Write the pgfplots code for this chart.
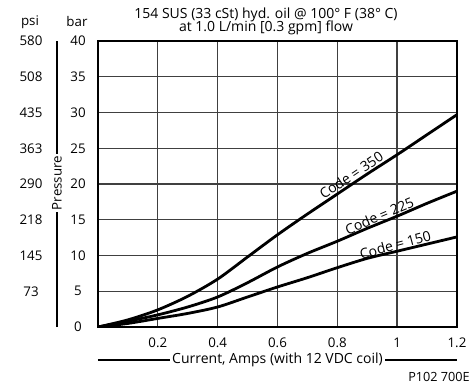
\documentclass[border=0pt]{standalone}
\usepackage{pgfplots}
\pgfplotsset{compat=1.18}
\usepackage{fontspec}
\setmainfont{Open Sans}
\begin{document}
\begin{tikzpicture}[x=0.75pt,y=0.75pt]
\useasboundingbox (-98,-59) rectangle (374,327);
% psi column axis
\begin{axis}[
  at={(0,0)}, anchor=south west, scale only axis,
  width=269.25pt, height=214.5pt,
  xmin=0, xmax=1.2, ymin=0, ymax=40,
  axis line style={draw=none}, xtick=\empty,
  ytick={5,10,15,20,25,30,35,40},
  yticklabels={73,145,218,290,363,435,508,580},
  tick style={draw=none},
  yticklabel style={anchor=center, xshift=-50.25pt, font=\fontsize{10}{12}\selectfont},
  /pgf/number format/assume math mode=true,
]
\end{axis}
\pgfplotstableread{
x y
0 0
0.1 1.0
0.2 2.4
0.3 4.3
0.4 6.7
0.5 9.8
0.6 12.9
0.7 15.8
0.8 18.6
0.9 21.4
1.0 24.1
1.1 26.9
1.2 29.7
}\codeA
\pgfplotstableread{
x y
0 0
0.1 0.8
0.2 1.7
0.3 2.8
0.4 4.2
0.5 6.2
0.6 8.4
0.7 10.3
0.8 12.0
0.9 13.8
1.0 15.5
1.1 17.3
1.2 19.0
}\codeB
\pgfplotstableread{
x y
0 0
0.1 0.5
0.2 1.2
0.3 1.9
0.4 2.8
0.5 4.2
0.6 5.6
0.7 6.9
0.8 8.3
0.9 9.6
1.0 10.6
1.1 11.6
1.2 12.6
}\codeC
\begin{axis}[
  at={(0,0)}, anchor=south west, scale only axis,
  width=269.25pt, height=214.5pt,
  xmin=0, xmax=1.2, ymin=0, ymax=40,
  xtick={0.2,0.4,0.6,0.8,1,1.2},
  xticklabels={0.2,0.4,0.6,0.8,1,1.2},
  ytick={0,5,...,40},
  tick style={draw=none},
  grid=major,
  grid style={black!75, line width=1pt},
  axis line style={line width=1.4pt},
  xticklabel style={anchor=center, yshift=-12pt, font=\fontsize{10}{12}\selectfont},
  yticklabel style={anchor=center, xshift=-15pt, font=\fontsize{10}{12}\selectfont},
  /pgf/number format/assume math mode=true,
]
\addplot[smooth, line width=2.1pt, black] table {\codeA};
\addplot[smooth, line width=2.1pt, black] table {\codeB};
\addplot[smooth, line width=2.1pt, black] table {\codeC};
\node[rotate=34, anchor=south, inner sep=1.2pt, font=\fontsize{10.5}{12}\selectfont] at (axis cs:0.86,20.4) {Code = 350};
\node[rotate=23, anchor=south, inner sep=1.2pt, font=\fontsize{10.5}{12}\selectfont] at (axis cs:0.95,14.6) {Code = 225};
\node[rotate=15, anchor=south, inner sep=1.2pt, font=\fontsize{10.5}{12}\selectfont] at (axis cs:1.0,10.5) {Code = 150};
\end{axis}
% x label with rules
\draw[line width=0.8pt] (0,-33) -- (359,-33);
\node[fill=white, inner sep=1.5pt, font=\fontsize{10.5}{12}\selectfont] at (179.5,-33) {Current, Amps (with 12 VDC coil)};
% y label with rules
\draw[line width=0.8pt] (-41,0) -- (-41,286);
\node[fill=white, inner sep=1.5pt, rotate=90, font=\fontsize{10}{12}\selectfont] at (-41,144) {Pressure};
% headers
\node[font=\fontsize{10}{12}\selectfont] at (-68,305) {psi};
\node[font=\fontsize{10}{12}\selectfont] at (-21,305) {bar};
\node[font=\fontsize{10.5}{11}\selectfont, align=center] at (168,305.5) {154 SUS (33 cSt) hyd. oil @ 100° F (38° C)\\[-1pt] at 1.0 L/min [0.3 gpm] flow};
\node[anchor=east, font=\fontsize{9.5}{12}\selectfont, inner sep=0pt] at (372,-50) {P102 700E};
\end{tikzpicture}
\end{document}
